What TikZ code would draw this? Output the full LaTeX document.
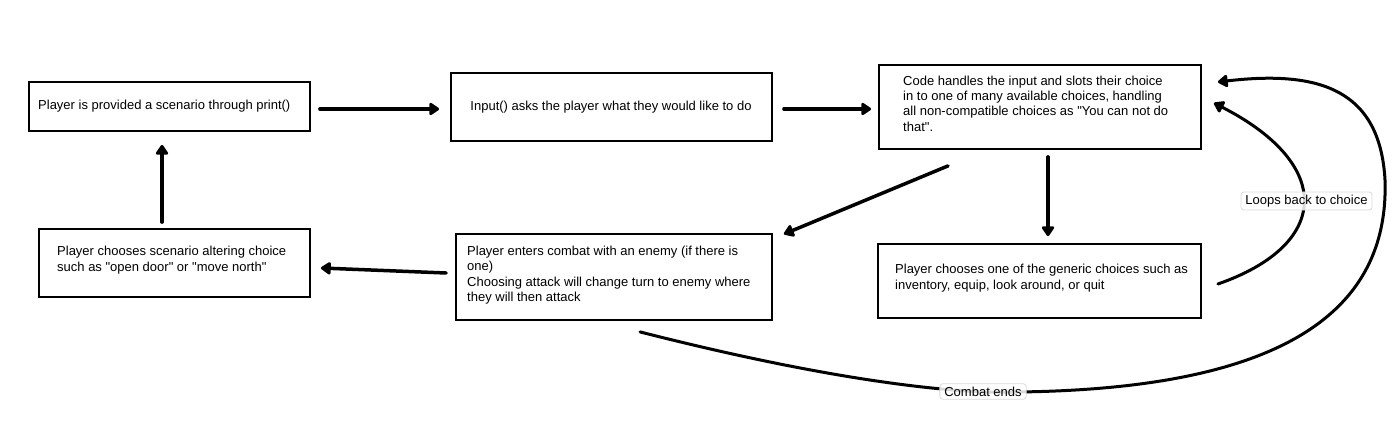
\documentclass[tikz,border=0pt]{standalone}
\usepackage{fontspec}
\setmainfont{Liberation Sans}[Ligatures=TeXOff]
\usetikzlibrary{arrows.meta,calc}
\begin{document}
\begin{tikzpicture}[x=1pt,y=-1pt,
  box/.style={draw=black, line width=1.8pt, rectangle, inner sep=0pt},
  txt/.style={font=\fontsize{13}{15.3}\selectfont, align=left, inner sep=0pt, anchor=west},
  arr/.style={line width=3.5pt, line cap=round, -{Triangle[length=11pt,width=14pt,round]}},
  carr/.style={line width=3pt, line cap=round, -{Triangle[length=11pt,width=14pt,round]}},
  lbl/.style={font=\fontsize{13}{15}\selectfont, draw=black!15, line width=0.8pt, rounded corners=3pt, fill=white, fill opacity=0.85, text opacity=1, inner xsep=4.5pt, inner ysep=3pt}
]
\useasboundingbox (0,0) rectangle (1400,427);

% boxes
\node[box, minimum width=281pt, minimum height=49pt] (b1) at (169.5,106.5) {};
\node[box, minimum width=321pt, minimum height=68pt] (b2) at (611.5,107) {};
\node[box, minimum width=322pt, minimum height=84pt] (b3) at (1040,107) {};
\node[box, minimum width=323pt, minimum height=74pt] (b4) at (1039.5,281) {};
\node[box, minimum width=316pt, minimum height=86pt] (b5) at (614,277) {};
\node[box, minimum width=271pt, minimum height=68pt] (b6) at (174.5,263) {};

% texts
\node[txt] (t1) at (38,106.5) {Player is provided a scenario through print()};
\node[txt, anchor=center, align=center] (t2) at (611,107) {Input() asks the player what they would like to do};
\node[txt] (t3) at (903,103.5) {Code handles the input and slots their choice\\in to one of many available choices, handling\\all non-compatible choices as "You can not do\\that".};
\node[txt] (t4) at (895,278) {Player chooses one of the generic choices such as\\inventory, equip, look around, or quit};
\node[txt] (t5) at (467,275) {Player enters combat with an enemy (if there is\\one)\\Choosing attack will change turn to enemy where\\they will then attack};
\node[txt] (t6) at (57,260) {Player chooses scenario altering choice\\such as "open door" or "move north"};

% straight connectors
\draw[arr, shorten <=9pt, shorten >=11pt] ([yshift=-2.5pt]b1.east) -- ([yshift=-2pt]b2.west);
\draw[arr, shorten <=11pt, shorten >=7pt] ([yshift=-2pt]b2.east) -- ([yshift=-2pt]b3.west);
\draw[arr] ([xshift=-92pt,yshift=-16pt]b3.south) -- ([xshift=11pt,yshift=-1pt]b5.north east);
\draw[arr] ([xshift=8pt,yshift=-7pt]b3.south) -- ([xshift=8.5pt,yshift=7pt]b4.north);
\draw[arr] ([xshift=-9pt,yshift=4pt]b5.west) -- ([xshift=10pt,yshift=-5pt]b6.east);
\draw[arr] ([xshift=-12.5pt,yshift=6pt]b6.north) -- ([xshift=-7.5pt,yshift=-13pt]b1.south);

% curved connectors
\draw[carr] ([xshift=16pt,yshift=-3pt]b4.east) .. controls (1330,245) and (1335,165) .. ([xshift=12pt,yshift=4pt]b3.east);
\draw[carr] ([xshift=26pt,yshift=-11pt]b5.south) .. controls (750,360) and (880,387) .. (983,392)
  .. controls (1250,395) and (1390,330) .. (1385,180)
  .. controls (1380,90) and (1320,70) .. ([xshift=16pt,yshift=25pt]b3.east);

% labels
\node[lbl] (l1) at (1306.5,201) {Loops back to choice};
\node[lbl] (l2) at (983,391.5) {Combat ends};
\end{tikzpicture}
\end{document}
